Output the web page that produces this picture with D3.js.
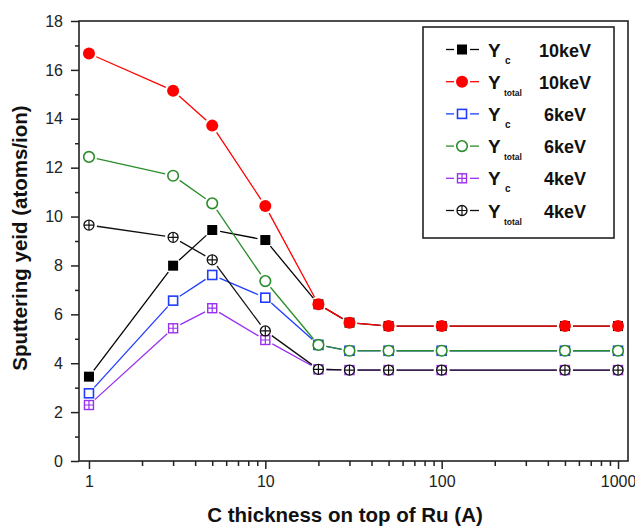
<!DOCTYPE html>
<html>
<head>
<meta charset="utf-8">
<script src="https://cdn.jsdelivr.net/npm/d3@7"></script>
<style>
  body { margin: 0; background: #fff; }
  text { font-family: Arial, "Liberation Sans", sans-serif; }
</style>
</head>
<body>
<svg id="chart" width="635" height="529"></svg>
<script>
// C layer thickness on top of Ru (Angstrom)
const thickness = [1, 3, 5, 10, 20, 30, 50, 100, 500, 1000];

// Sputtering yields (atoms/ion)
const ycAt10keV    = [3.45, 7.99, 9.45, 9.04, 6.41, 5.66, 5.52, 5.52, 5.52, 5.52];
const ytotalAt10keV = [16.67, 15.15, 13.72, 10.43, 6.41, 5.66, 5.52, 5.52, 5.52, 5.52];
const ycAt6keV     = [2.77, 6.56, 7.61, 6.68, 4.75, 4.51, 4.51, 4.51, 4.51, 4.51];
const ytotalAt6keV  = [12.44, 11.67, 10.54, 7.36, 4.75, 4.51, 4.51, 4.51, 4.51, 4.51];
const ycAt4keV     = [2.29, 5.43, 6.25, 4.95, 3.75, 3.72, 3.72, 3.72, 3.72, 3.72];
const ytotalAt4keV  = [9.65, 9.15, 8.23, 5.32, 3.75, 3.72, 3.72, 3.72, 3.72, 3.72];

const xTickValues = [1, 10, 100, 1000];
const yTickValues = [0, 2, 4, 6, 8, 10, 12, 14, 16, 18];

const seriesNames = ["c", "total", "c", "total", "c", "total"];
const energyLabels = ["10keV", "10keV", "6keV", "6keV", "4keV", "4keV"];
const seriesValues = [ycAt10keV, ytotalAt10keV, ycAt6keV, ytotalAt6keV, ycAt4keV, ytotalAt4keV];
const seriesColors = ["#000000", "#ff0000", "#1f3cff", "#2a8c2a", "#9a2ff0", "#111111"];
const markerShapes = ["squareFilled", "circleFilled", "squareOpen", "circleOpen", "squareCross", "circleCross"];

const svg = d3.select("#chart");
const plotLeft = 79, plotRight = 628, plotTop = 21, plotBottom = 461;

const x = d3.scaleLog().domain([0.878, 1139]).range([plotLeft, plotRight]);
const y = d3.scaleLinear().domain([0, 18]).range([plotBottom, plotTop]);

// frame
svg.append("rect")
  .attr("x", plotLeft).attr("y", plotTop)
  .attr("width", plotRight - plotLeft).attr("height", plotBottom - plotTop)
  .attr("fill", "none").attr("stroke", "#222").attr("stroke-width", 1.6);

// x axis: major and minor ticks
const minorX = [];
[1, 10, 100].forEach(d => { for (let k = 2; k <= 9; k++) minorX.push(d * k); });

const gx = svg.append("g").attr("transform", `translate(0,${plotBottom})`);
gx.call(d3.axisBottom(x).tickValues(xTickValues).tickSize(8).tickPadding(7)
  .tickFormat(d3.format("d")));
gx.append("g").call(d3.axisBottom(x).tickValues(minorX).tickSize(5).tickFormat(""));
gx.selectAll(".domain").remove();

const gy = svg.append("g").attr("transform", `translate(${plotLeft},0)`);
gy.call(d3.axisLeft(y).tickValues(yTickValues).tickSize(8).tickPadding(8));
gy.append("g").call(d3.axisLeft(y).tickValues(d3.range(1, 18, 2)).tickSize(4).tickFormat(""));
gy.selectAll(".domain").remove();

svg.selectAll(".tick line").attr("stroke", "#222").attr("stroke-width", 1.5);
svg.selectAll(".tick text").attr("font-size", 16).attr("fill", "#222")
  .attr("font-family", "Arial, 'Liberation Sans', sans-serif");

// axis titles
svg.append("text")
  .attr("x", 345).attr("y", 522)
  .attr("text-anchor", "middle")
  .attr("font-size", 20.5).attr("font-weight", "bold").attr("fill", "#111")
  .text("C thickness on top of Ru (A)");

svg.append("text")
  .attr("transform", "translate(27,238) rotate(-90)")
  .attr("text-anchor", "middle")
  .attr("font-size", 20.5).attr("font-weight", "bold").attr("fill", "#111")
  .text("Sputtering yeid (atoms/ion)");

// marker drawing
function drawMarker(g, shape, color, cx, cy) {
  const m = g.append("g").attr("transform", `translate(${cx},${cy})`);
  if (shape === "squareFilled") {
    m.append("rect").attr("x", -5).attr("y", -5).attr("width", 10).attr("height", 10).attr("fill", color);
  } else if (shape === "circleFilled") {
    m.append("circle").attr("r", 6).attr("fill", color);
  } else if (shape === "squareOpen") {
    m.append("rect").attr("x", -4.5).attr("y", -4.5).attr("width", 9).attr("height", 9)
      .attr("fill", "#fff").attr("stroke", color).attr("stroke-width", 1.6);
  } else if (shape === "circleOpen") {
    m.append("circle").attr("r", 5.3).attr("fill", "#fff").attr("stroke", color).attr("stroke-width", 1.6);
  } else if (shape === "squareCross") {
    m.append("rect").attr("x", -4.5).attr("y", -4.5).attr("width", 9).attr("height", 9)
      .attr("fill", "#fff").attr("stroke", color).attr("stroke-width", 1.4);
    m.append("path").attr("d", "M-4.5,0H4.5M0,-4.5V4.5").attr("stroke", color).attr("stroke-width", 1.2);
  } else if (shape === "circleCross") {
    m.append("circle").attr("r", 5).attr("fill", "#fff").attr("stroke", color).attr("stroke-width", 1.3);
    m.append("path").attr("d", "M-5,0H5M0,-5V5").attr("stroke", color).attr("stroke-width", 1.2);
  }
}

// lines that stop short of the markers
function drawGappedLine(g, pts, color, gap) {
  for (let i = 0; i < pts.length - 1; i++) {
    const [x1, y1] = pts[i], [x2, y2] = pts[i + 1];
    const dx = x2 - x1, dy = y2 - y1, len = Math.hypot(dx, dy);
    if (len <= 2 * gap) continue;
    const ux = dx / len, uy = dy / len;
    g.append("line")
      .attr("x1", x1 + ux * gap).attr("y1", y1 + uy * gap)
      .attr("x2", x2 - ux * gap).attr("y2", y2 - uy * gap)
      .attr("stroke", color).attr("stroke-width", 1.3);
  }
}

const plot = svg.append("g");
seriesValues.forEach((vals, i) => {
  const g = plot.append("g");
  const pts = vals.map((v, j) => [x(thickness[j]), y(v)]);
  drawGappedLine(g, pts, seriesColors[i], 8);
  pts.forEach(p => drawMarker(g, markerShapes[i], seriesColors[i], p[0], p[1]));
});

// legend
const legend = svg.append("g");
legend.append("rect")
  .attr("x", 423).attr("y", 27).attr("width", 191).attr("height", 211)
  .attr("fill", "#fff").attr("stroke", "#222").attr("stroke-width", 1.6);

const rowY = d3.scaleLinear().domain([0, 5]).range([49.5, 210.5]);
seriesValues.forEach((vals, i) => {
  const cy = rowY(i);
  const g = legend.append("g");
  drawGappedLine(g, [[438, cy], [462, cy], [487, cy]], seriesColors[i], 8);
  drawMarker(g, markerShapes[i], seriesColors[i], 462, cy);
  g.append("text").attr("x", 488).attr("y", cy + 7)
    .attr("font-size", 19).attr("font-weight", "bold").attr("fill", "#111").text("Y");
  g.append("text").attr("x", seriesNames[i] === "c" ? 505 : 504).attr("y", cy + 14)
    .attr("font-size", seriesNames[i] === "c" ? 10 : 8.5).attr("font-weight", "bold").attr("fill", "#111")
    .text(seriesNames[i]);
  g.append("text").attr("x", 565).attr("y", cy + 7)
    .attr("text-anchor", "middle")
    .attr("font-size", 18).attr("font-weight", "bold").attr("fill", "#111")
    .text(energyLabels[i]);
});
</script>
</body>
</html>
